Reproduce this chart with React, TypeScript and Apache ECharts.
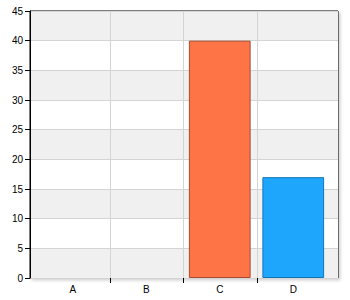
import React, { useEffect, useRef } from 'react';
import * as echarts from 'echarts';

const categories = ['A', 'B', 'C', 'D'];
const values = [0, 0, 40, 17];
const barFills = ['#ff7447', '#ff7447', '#ff7447', '#1ea6fd'];
const barBorders = ['#a84a2c', '#a84a2c', '#a84a2c', '#1476b8'];
const yMin = 0;
const yMax = 45;
const yStep = 5;
// category boundaries that get a vertical grid line (left edge of these categories)
const boundaryIdx = [1, 2, 3];

const FONT = '"Liberation Sans", Arial, sans-serif';

export default function App() {
  const ref = useRef<HTMLDivElement>(null);
  useEffect(() => {
    const chart = echarts.init(ref.current!, null, { renderer: 'svg' });
    chart.setOption({
      animation: false,
      backgroundColor: '#fff',
      grid: [
        {
          left: 30, top: 11, width: 308, height: 267,
          show: true, borderColor: '#000', borderWidth: 1, backgroundColor: '#fff',
          shadowBlur: 3, shadowOffsetX: 2, shadowOffsetY: 2, shadowColor: 'rgba(0,0,0,0.18)',
        },
        { left: 36, top: 11, width: 294, height: 267, show: false },
      ],
      xAxis: [
        { gridIndex: 0, type: 'value', min: 0, max: 1, show: false },
        {
          gridIndex: 1, type: 'category', data: categories,
          axisLine: { show: false }, axisTick: { show: false }, splitLine: { show: false },
          axisLabel: { fontSize: 10, color: '#000', margin: 6, fontFamily: FONT },
        },
      ],
      yAxis: [
        {
          gridIndex: 0, type: 'value', min: yMin, max: yMax, interval: yStep,
          axisLine: { show: true, lineStyle: { color: '#000' } },
          axisTick: { show: true, length: 5, lineStyle: { color: '#000' } },
          axisLabel: { fontSize: 10, color: '#000', margin: 7, fontFamily: FONT },
          splitLine: { show: true, lineStyle: { color: '#d4d4d4' } },
          splitArea: { show: true, areaStyle: { color: ['#f0f0f0', '#ffffff'] } },
        },
        { gridIndex: 1, type: 'value', min: yMin, max: yMax, interval: yStep, show: false },
      ],
      series: [
        {
          type: 'custom',
          xAxisIndex: 1, yAxisIndex: 1, z: 1, silent: true,
          data: boundaryIdx.map((i) => [i, 0]),
          encode: { x: 0, y: 1 },
          renderItem: (params: any, api: any) => {
            const idx = api.value(0);
            const size = api.size([1, 0]);
            const bottom = api.coord([idx, yMin]);
            const top = api.coord([idx, yMax]);
            const x = Math.round(bottom[0] - size[0] / 2) + 0.5;
            return {
              type: 'group',
              children: [
                { type: 'line', shape: { x1: x, y1: top[1], x2: x, y2: bottom[1] }, style: { stroke: '#d4d4d4', lineWidth: 1 } },
                { type: 'line', shape: { x1: x, y1: bottom[1], x2: x, y2: bottom[1] + 5 }, style: { stroke: '#000', lineWidth: 1 } },
              ],
            };
          },
        },
        {
          type: 'bar',
          xAxisIndex: 1, yAxisIndex: 1, z: 2,
          barWidth: '84%',
          data: values.map((v, i) => ({
            value: v,
            itemStyle: { color: barFills[i], borderColor: barBorders[i], borderWidth: v > 0 ? 1 : 0 },
          })),
        },
      ],
    });
    return () => chart.dispose();
  }, []);
  return <div ref={ref} style={{ position: 'fixed', left: 0, top: 0, width: 350, height: 300 }} />;
}
